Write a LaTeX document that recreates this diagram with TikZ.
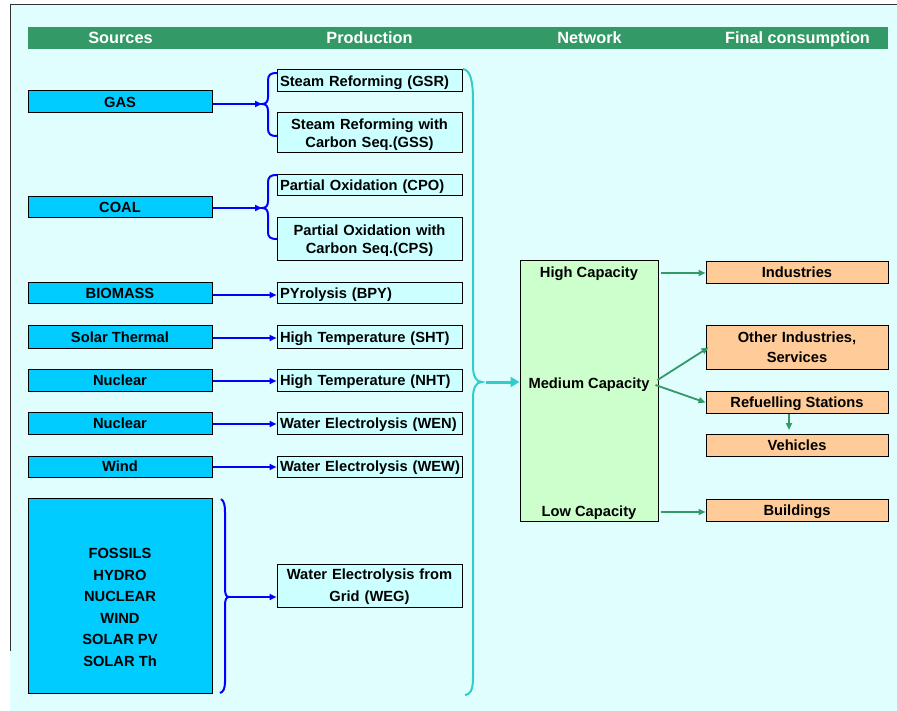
\documentclass[tikz,border=0pt]{standalone}
\usepackage{fontspec}
\setmainfont{Liberation Sans}
\usetikzlibrary{arrows.meta,calc}
\definecolor{bgc}{HTML}{E0FEFE}
\definecolor{hdrc}{HTML}{339966}
\definecolor{srcc}{HTML}{00CCFF}
\definecolor{prodc}{HTML}{CCFFFF}
\definecolor{netc}{HTML}{CCFFCC}
\definecolor{consc}{HTML}{FFCC99}
\definecolor{tealc}{HTML}{33CCCC}
\definecolor{bluec}{HTML}{0000FF}
\tikzset{
  basebox/.style={draw=black, line width=1pt, inner sep=0pt, font=\fontsize{14.7}{17.7}\selectfont\bfseries},
  oneline/.style={text height=11pt, text depth=0.5pt},
  srcbox/.style={basebox, oneline, fill=srcc, minimum width=184pt, minimum height=22pt},
  prodbox/.style={basebox, oneline, fill=prodc, minimum width=185pt, minimum height=22pt, text width=185pt, align=left, execute at begin node={\hspace*{3pt}}},
  prodtwo/.style={basebox, fill=prodc, minimum width=185pt, text width=185pt, align=center, text height=11pt},
  consbox/.style={basebox, oneline, fill=consc, minimum width=182pt, minimum height=22pt},
  hdrtxt/.style={text=white, font=\fontsize{16.3}{18}\selectfont\bfseries, inner sep=0pt, text height=11.7pt, text depth=0pt},
  nettxt/.style={font=\fontsize{14.7}{17.7}\selectfont\bfseries, inner sep=0pt, oneline},
  bbrace/.style={draw=bluec, line width=2pt},
  tbrace/.style={draw=tealc, line width=2pt},
  barr/.style={draw=bluec, line width=2pt, -{Triangle[length=7pt,width=6pt]}},
  garr/.style={draw=hdrc, line width=1.8pt, -{Triangle[length=7pt,width=6pt]}},
  tarr/.style={draw=tealc, line width=3pt, -{Triangle[length=9pt,width=10pt]}}
}
\begin{document}
\begin{tikzpicture}[x=1pt,y=-1pt]
\useasboundingbox (0,0) rectangle (897,711);
\fill[bgc] (10,5) rectangle (897,711);
\draw[line width=1pt, black!80] (10,651) -- (10,5) -- (897,5);
% header
\fill[hdrc] (28,27) rectangle (888,49);
\node[hdrtxt] (hsrc) at (120.5,38) {Sources};
\node[hdrtxt] (hprod) at (369.5,38) {Production};
\node[hdrtxt] (hnet) at (589.5,38) {Network};
\node[hdrtxt] (hcons) at (797.5,38) {Final consumption};
% sources
\node[srcbox] (gas) at (120,102) {GAS};
\node[srcbox, minimum height=21pt] (coal) at (120,207.5) {COAL};
\node[srcbox, minimum height=21pt] (bio) at (120,293.5) {BIOMASS};
\node[srcbox] (solth) at (120,337) {Solar Thermal};
\node[srcbox] (nuc1) at (120,380) {Nuclear};
\node[srcbox] (nuc2) at (120,423) {Nuclear};
\node[srcbox, minimum height=21pt] (wind) at (120,466.5) {Wind};
\node[srcbox, minimum height=195pt] (big) at (120,595.5) {};
\node[inner sep=0pt, align=center, font=\fontsize{14.7}{21.6}\selectfont\bfseries] (bigtxt) at (120,607.5) {FOSSILS\\HYDRO\\NUCLEAR\\WIND\\SOLAR PV\\SOLAR Th};
% production
\node[prodbox] (gsr) at (369.5,81) {Steam Reforming (GSR)};
\node[prodtwo, minimum height=40pt, text depth=18.2pt] (gss) at (369.5,133) {Steam Reforming with\\Carbon Seq.(GSS)};
\node[prodbox, minimum height=21pt] (cpo) at (369.5,185.5) {Partial Oxidation (CPO)};
\node[prodtwo, minimum height=43pt, text depth=18.2pt] (cps) at (369.5,239.5) {Partial Oxidation with\\Carbon Seq.(CPS)};
\node[prodbox, minimum height=21pt] (bpy) at (369.5,293.5) {PYrolysis (BPY)};
\node[prodbox] (sht) at (369.5,337) {High Temperature (SHT)};
\node[prodbox] (nht) at (369.5,380) {High Temperature (NHT)};
\node[prodbox] (wen) at (369.5,423) {Water Electrolysis (WEN)};
\node[prodbox, minimum height=21pt] (wew) at (369.5,466.5) {Water Electrolysis (WEW)};
\node[prodtwo, minimum height=43pt, text depth=22.2pt, font=\fontsize{14.7}{21.7}\selectfont\bfseries] (weg) at (369.5,585.5) {Water Electrolysis from\\Grid (WEG)};
% network
\node[draw=black, line width=1pt, fill=netc, minimum width=138pt, minimum height=260pt, inner sep=0pt] (net) at (589,391) {};
\node[nettxt] (hi) at (589,272) {High Capacity};
\node[nettxt] (med) at (589,383) {Medium Capacity};
\node[nettxt] (lo) at (589,511) {Low Capacity};
% consumption
\node[consbox] (ind) at (797,272.5) {Industries};
\node[basebox, fill=consc, minimum width=182pt, minimum height=43pt, text width=182pt, align=center, text height=11pt, text depth=20.8pt, font=\fontsize{14.7}{20.3}\selectfont\bfseries] (oth) at (797,347.5) {Other Industries,\\Services};
\node[consbox] (ref) at (797,402.5) {Refuelling Stations};
\node[consbox] (veh) at (797,445.5) {Vehicles};
\node[consbox] (bld) at (797,510.5) {Buildings};
% braces
\coordinate (gasb) at (262,104);
\coordinate (coalb) at (262,208);
\coordinate (bigb) at (229,597);
\coordinate (tealb) at (486,382);
\draw[bbrace] (277,73) .. controls (270,73) and (268,75) .. (268,81) -- (268,97) .. controls (268,102) and (266,104) .. (262,104) .. controls (266,104) and (268,106) .. (268,111) -- (268,128) .. controls (268,134) and (270,136) .. (277,136);
\draw[bbrace] (277,175) .. controls (270,175) and (268,177) .. (268,183) -- (268,201) .. controls (268,206) and (266,208) .. (262,208) .. controls (266,208) and (268,210) .. (268,215) -- (268,232) .. controls (268,237) and (270,239) .. (277,239);
\draw[bbrace] (221,499) .. controls (224,501) and (225,505) .. (225,512) -- (225,588) .. controls (225,594) and (226,597) .. (229,597) .. controls (226,597) and (225,600) .. (225,606) -- (225,682) .. controls (225,689) and (223,692) .. (220,693);
\draw[tbrace] (463,69) .. controls (470,70) and (473,80) .. (473,100) -- (473,366) .. controls (473,376) and (476,382) .. (482,382) .. controls (476,382) and (473,388) .. (473,398) -- (473,678) .. controls (473,690) and (470,695) .. (465,695);
% blue arrows
\draw[barr] (gas.east |- gasb) -- (gasb);
\draw[barr] (coal.east |- coalb) -- (coalb);
\draw[barr] ($(bio.east)+(0,1.5)$) -- ($(bpy.west)+(0,1.5)$);
\draw[barr] ($(solth.east)+(0,1)$) -- ($(sht.west)+(0,1)$);
\draw[barr] ($(nuc1.east)+(0,1)$) -- ($(nht.west)+(0,1)$);
\draw[barr] ($(nuc2.east)+(0,1)$) -- ($(wen.west)+(0,1)$);
\draw[barr] ($(wind.east)+(0,0.5)$) -- ($(wew.west)+(0,0.5)$);
\draw[barr] (bigb) -- (weg.west |- bigb);
% teal arrow
\draw[tarr] (tealb) -- (net.west |- tealb);
% green arrows
\draw[garr] ($(net.east |- ind)+(2,0.5)$) -- ($(ind.west)+(0,0.5)$);
\draw[garr] ($(net.east |- med)+(-1,-3)$) -- ($(oth.west)+(3,0)$);
\draw[garr] ($(net.east |- med)+(-3,2)$) -- (ref.west);
\draw[garr] ($(ref.south)+(-8,0)$) -- ($(veh.north)+(-8,-4)$);
\draw[garr] ($(net.east |- bld)+(2,1.5)$) -- ($(bld.west)+(0,1.5)$);
\end{tikzpicture}
\end{document}
